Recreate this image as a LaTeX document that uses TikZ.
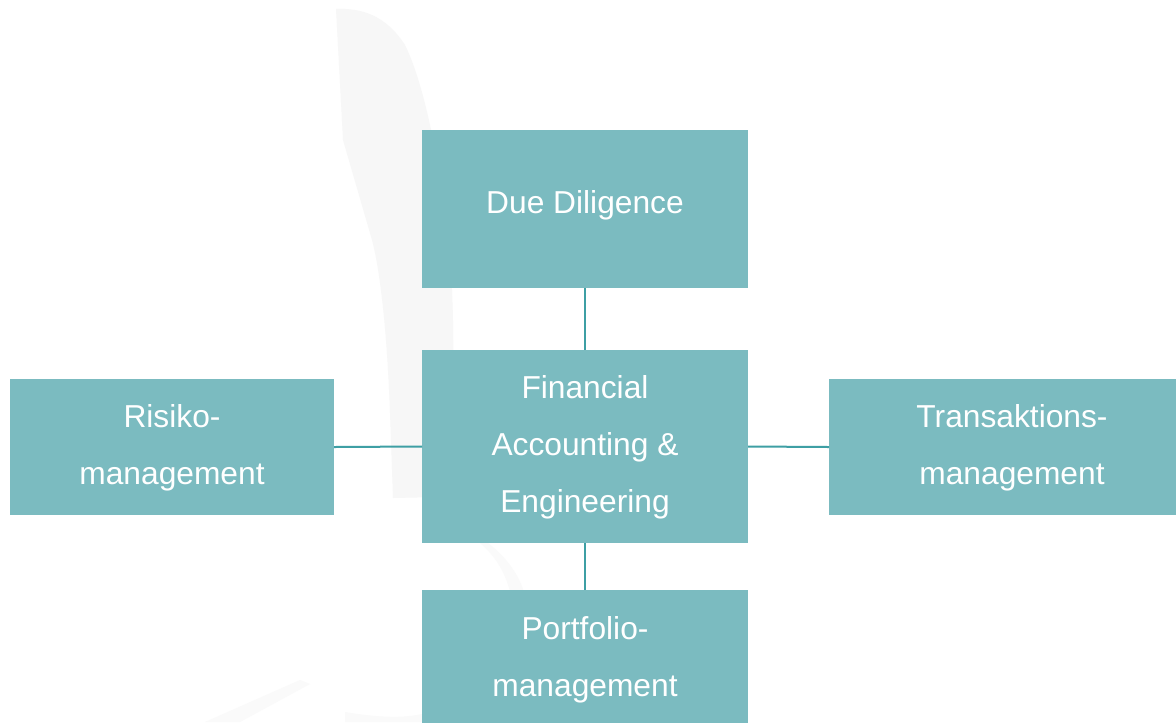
\documentclass[tikz,border=0pt]{standalone}
\usepackage{fontspec}
\setmainfont{Liberation Sans}
\definecolor{boxfill}{HTML}{7BBBC0}
\definecolor{linkc}{HTML}{3E9FA4}
\definecolor{wm}{HTML}{F7F7F7}
\definecolor{wmlight}{HTML}{FAFAFA}
\begin{document}
\begin{tikzpicture}[x=0.75pt,y=-0.75pt,
  boxnode/.style={fill=boxfill,draw=none,inner sep=0pt,outer sep=0pt,rectangle},
  lbl/.style={anchor=base,text=white,inner sep=0pt,font=\fontsize{23.8}{28}\selectfont},
  link/.style={draw=linkc,line width=1.5pt}]
\useasboundingbox (0,0) rectangle (1176,722);
\fill[white] (0,0) rectangle (1176,722);
% faint watermark
\fill[wm] (336,9) .. controls (360,8) and (385,14) .. (405,45)
  .. controls (425,85) and (445,180) .. (452,290)
  .. controls (456,380) and (450,450) .. (440,497)
  -- (393,498) -- (390,413) .. controls (387,330) and (380,270) .. (372,240)
  -- (343,140) -- cycle;
\fill[wmlight] (488,543) .. controls (510,560) and (522,580) .. (526,600)
  -- (512,600) .. controls (508,580) and (500,560) .. (480,543) -- cycle;
\fill[wmlight] (205,722) -- (300,680) -- (310,684) -- (240,722) -- cycle;
\fill[wmlight] (345,712) .. controls (380,718) and (405,718) .. (422,714) -- (422,722) -- (345,722) -- cycle;
% boxes
\node[boxnode,minimum width=244.5pt,minimum height=118.5pt] (dd) at (585,209) {};
\node[boxnode,minimum width=244.5pt,minimum height=144.75pt] (fae) at (585,446.5) {};
\node[boxnode,minimum width=243pt,minimum height=102pt] (rm) at (172,447) {};
\node[boxnode,minimum width=274.5pt,minimum height=102pt] (tm) at (1012,447) {};
\node[boxnode,minimum width=244.5pt,minimum height=112.5pt] (pm) at (585,665) {};
% connectors
\draw[link] (dd.south) -- (fae.north);
\draw[link] (fae.south) -- (pm.north);
\draw[link] (rm.east) -- (fae.west);
\draw[link] (fae.east) -- (tm.west);
% labels
\node[lbl] (ddT) at (585,213) {Due Diligence};
\node[lbl] (rmT1) at (172,427) {Risiko-};
\node[lbl] (rmT2) at (172,484) {management};
\node[lbl] (faeT1) at (585,398) {Financial};
\node[lbl] (faeT2) at (585,455) {Accounting \&};
\node[lbl] (faeT3) at (585,512) {Engineering};
\node[lbl] (tmT1) at (1012,427) {Transaktions-};
\node[lbl] (tmT2) at (1012,484) {management};
\node[lbl] (pmT1) at (585,639) {Portfolio-};
\node[lbl] (pmT2) at (585,696) {management};
\end{tikzpicture}
\end{document}
